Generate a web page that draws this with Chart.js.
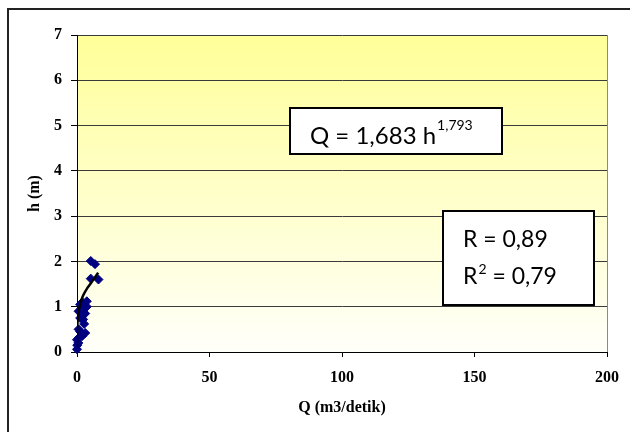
<!DOCTYPE html>
<html>
<head>
<meta charset="utf-8">
<script src="https://cdn.jsdelivr.net/npm/chart.js@4/dist/chart.umd.min.js"></script>
<style>
  html, body { margin: 0; padding: 0; background: #ffffff; }
  #wrap { position: relative; width: 630px; height: 432px; }
</style>
</head>
<body>
<div id="wrap"><canvas id="c"></canvas></div>
<script>
// Observed data: discharge Q (m3/detik) vs water level h (m)
const qValues = [0.0, 0.1, 0.5, 0.0, 0.8, 1.9, 1.2, 3.1, 0.6, 2.7, 2.3, 1.2, 3.1, 0.6, 2.5, 3.7, 1.2, 2.0, 3.7, 5.2, 6.8, 5.2, 8.1];
const hValues = [0.06, 0.15, 0.2, 0.27, 0.32, 0.35, 0.45, 0.42, 0.5, 0.62, 0.72, 0.75, 0.85, 0.9, 1.0, 1.0, 1.05, 1.1, 1.12, 2.01, 1.94, 1.62, 1.6];

// Trend line
const trendQ = [0.0, 0.01, 0.05, 0.2, 0.6, 1.2, 2.5, 4.0, 5.6, 8.0];
const trendH = [0.1, 0.3, 0.45, 0.66, 0.87, 1.06, 1.27, 1.42, 1.55, 1.75];

const xTicks = [0, 50, 100, 150, 200];
const yTicks = [0, 1, 2, 3, 4, 5, 6, 7];

const xTitle = 'Q (m3/detik)';
const yTitle = 'h (m)';
const eqMain = 'Q = 1,683 h';
const eqExp = '1,793';
const rText = 'R = 0,89';
const r2Base = 'R';
const r2Exp = '2';
const r2Rest = ' = 0,79';

const axisFont = { family: '"Liberation Serif", "Times New Roman", serif', size: 16, weight: 'bold' };

const scatterPts = qValues.map((q, i) => ({ x: q, y: hValues[i] }));
const trendPts = trendQ.map((q, i) => ({ x: q, y: trendH[i] }));

const framePlugin = {
  id: 'frame',
  beforeDraw(chart) {
    const { ctx, chartArea: a } = chart;
    ctx.save();
    ctx.fillStyle = '#ffffff';
    ctx.fillRect(0, 0, chart.width, chart.height);
    const g = ctx.createLinearGradient(0, a.top, 0, a.bottom);
    g.addColorStop(0, '#FFFF99');
    g.addColorStop(1, '#FFFFFA');
    ctx.fillStyle = g;
    ctx.fillRect(a.left, a.top, a.right - a.left, a.bottom - a.top);
    // outer chart frame
    ctx.strokeStyle = '#222222';
    ctx.lineWidth = 2;
    ctx.strokeRect(8, 9, 700, 600);
    ctx.restore();
  },
  beforeDatasetsDraw(chart) {
    const { ctx, chartArea: a } = chart;
    ctx.save();
    ctx.strokeStyle = '#8a8a8a';
    ctx.lineWidth = 1;
    ctx.beginPath();
    ctx.moveTo(a.right + 0.5, a.top);
    ctx.lineTo(a.right + 0.5, a.bottom);
    ctx.stroke();
    ctx.restore();
  },
  afterDraw(chart) {
    const { ctx } = chart;
    ctx.save();
    // equation box
    ctx.fillStyle = '#ffffff';
    ctx.fillRect(290, 108, 212, 46);
    ctx.strokeStyle = '#000000';
    ctx.lineWidth = 2;
    ctx.strokeRect(290, 108, 212, 46);
    ctx.fillStyle = '#000000';
    ctx.textBaseline = 'alphabetic';
    ctx.textAlign = 'left';
    ctx.font = '24px Lato, "Open Sans", sans-serif';
    ctx.fillText(eqMain, 310, 143.5);
    const w1 = ctx.measureText(eqMain).width;
    ctx.font = '14px Lato, "Open Sans", sans-serif';
    ctx.fillText(eqExp, 310 + w1 + 1, 130);

    // R box
    ctx.fillStyle = '#ffffff';
    ctx.fillRect(443, 211, 151, 94);
    ctx.strokeRect(443, 211, 151, 94);
    ctx.fillStyle = '#000000';
    ctx.font = '23px Lato, "Open Sans", sans-serif';
    ctx.fillText(rText, 463, 247);
    ctx.fillText(r2Base, 463, 283.5);
    const wr = ctx.measureText(r2Base).width;
    ctx.font = '14px Lato, "Open Sans", sans-serif';
    ctx.fillText(r2Exp, 463 + wr + 1, 273.5);
    const w2 = ctx.measureText(r2Exp).width;
    ctx.font = '23px Lato, "Open Sans", sans-serif';
    ctx.fillText(r2Rest, 463 + wr + 1 + w2, 283.5);
    ctx.restore();
  }
};

new Chart(document.getElementById('c'), {
  type: 'scatter',
  data: {
    datasets: [
      {
        label: 'trend',
        data: trendPts,
        showLine: true,
        borderColor: '#000000',
        borderWidth: 2.5,
        pointRadius: 0,
        cubicInterpolationMode: 'monotone',
        fill: false,
        order: 0
      },
      {
        label: 'data',
        data: scatterPts,
        pointStyle: 'rectRot',
        pointRadius: 4.5,
        backgroundColor: '#000080',
        borderColor: '#000080',
        borderWidth: 1,
        clip: false,
        order: 1
      }
    ]
  },
  options: {
    responsive: true,
    maintainAspectRatio: false,
    animation: false,
    events: [],
    layout: { padding: { left: 9, top: 35, right: 18, bottom: 0 } },
    plugins: {
      legend: { display: false },
      tooltip: { enabled: false },
      title: { display: false }
    },
    scales: {
      x: {
        type: 'linear',
        position: 'bottom',
        min: 0,
        max: 200,
        afterBuildTicks: s => { s.ticks = xTicks.map(v => ({ value: v })); },
        afterFit: s => { s.height = 80; },
        grid: {
          drawOnChartArea: false,
          drawTicks: true,
          tickLength: 5,
          tickColor: '#000000',
          color: '#000000'
        },
        border: { display: true, color: '#000000', width: 1 },
        ticks: { color: '#000000', font: axisFont, padding: 11, maxRotation: 0 },
        title: { display: true, text: xTitle, color: '#000000', font: axisFont, padding: { top: 0, bottom: 15 } }
      },
      y: {
        type: 'linear',
        min: 0,
        max: 7,
        afterBuildTicks: s => { s.ticks = yTicks.map(v => ({ value: v })); },
        afterFit: s => { s.width = 68; },
        grid: {
          drawOnChartArea: true,
          drawTicks: true,
          tickLength: 6,
          color: '#3a3a3a',
          tickColor: '#000000',
          lineWidth: 1
        },
        border: { display: true, color: '#000000', width: 1 },
        ticks: { color: '#000000', font: axisFont, padding: 9 },
        title: { display: true, text: yTitle, color: '#000000', font: axisFont, padding: { top: 16, bottom: 0 } }
      }
    }
  },
  plugins: [framePlugin]
});
</script>
</body>
</html>
